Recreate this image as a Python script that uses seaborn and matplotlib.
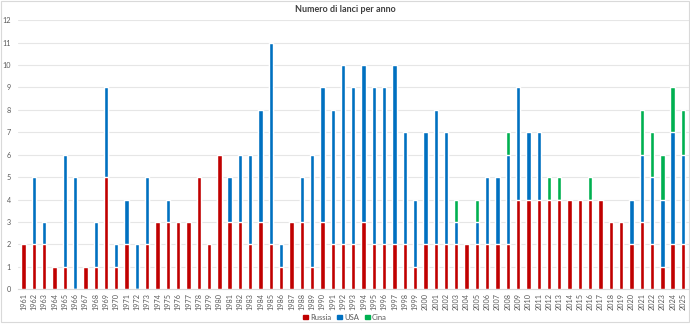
import matplotlib
matplotlib.use("Agg")
import matplotlib.pyplot as plt
from matplotlib.patches import Rectangle
import seaborn as sns
import pandas as pd

years = list(range(1961, 2026))
russia = [2, 2, 2, 1, 1, 0, 1, 1, 5, 1, 2, 0, 2, 3, 3, 3, 3, 5, 2, 6,
          3, 3, 2, 3, 2, 1, 3, 3, 1, 3, 2, 2, 2, 3, 2, 2, 2, 2, 1, 2,
          2, 2, 2, 2, 2, 2, 2, 2, 4, 4, 4, 4, 4, 4, 4, 4, 4, 3, 3, 2,
          3, 2, 1, 2, 2]
usa = [0, 3, 1, 0, 5, 5, 0, 2, 4, 1, 2, 2, 3, 0, 1, 0, 0, 0, 0, 0,
       2, 3, 4, 5, 9, 1, 0, 2, 5, 6, 6, 8, 7, 7, 7, 7, 8, 5, 3, 5,
       6, 5, 1, 0, 1, 3, 3, 4, 5, 3, 3, 0, 0, 0, 0, 0, 0, 0, 0, 2,
       3, 3, 3, 5, 4]
cina = [0, 0, 0, 0, 0, 0, 0, 0, 0, 0, 0, 0, 0, 0, 0, 0, 0, 0, 0, 0,
        0, 0, 0, 0, 0, 0, 0, 0, 0, 0, 0, 0, 0, 0, 0, 0, 0, 0, 0, 0,
        0, 0, 1, 0, 1, 0, 0, 1, 0, 0, 0, 1, 1, 0, 0, 1, 0, 0, 0, 0,
        2, 2, 2, 2, 2]
series_names = ["Russia", "USA", "Cina"]
colors = ["#C00000", "#0070C0", "#00B050"]

df = pd.DataFrame({"Anno": [str(y) for y in years],
                   "Russia": russia, "USA": usa, "Cina": cina})
df["Russia+USA"] = df["Russia"] + df["USA"]
df["Totale"] = df["Russia+USA"] + df["Cina"]

sns.set_theme(style="white")
plt.rcParams["font.family"] = ["Lato", "DejaVu Sans"]

fig = plt.figure(figsize=(6.9, 3.26), dpi=100)
ax = fig.add_axes([0.026, 0.113, 0.972, 0.825])

# stacked bars: draw cumulative totals back to front
for col, color in zip(["Totale", "Russia+USA", "Russia"], colors[::-1]):
    sns.barplot(data=df, x="Anno", y=col, color=color, width=0.42,
                saturation=1, ax=ax, zorder=3)

ax.set_ylim(0, 12)
ax.set_xlim(-0.55, len(years) - 0.45)
ax.set_yticks(range(0, 13))
ax.yaxis.grid(True, color="#E6E6E6", linewidth=0.8, zorder=0)
ax.set_axisbelow(True)
for side in ["top", "right", "left"]:
    ax.spines[side].set_visible(False)
ax.spines["bottom"].set_color("#D9D9D9")
ax.spines["bottom"].set_linewidth(0.8)
ax.set_xlabel("")
ax.set_ylabel("")
ax.tick_params(axis="x", labelrotation=90, labelsize=5.2, colors="#595959",
               length=0, pad=3)
ax.tick_params(axis="y", labelsize=5.2, colors="#595959", length=0, pad=5)

fig.text(0.5, 0.972, "Numero di lanci per anno", ha="center", va="center",
         fontsize=6.5, fontweight="bold", color="#404040")

handles = [Rectangle((0, 0), 1, 1, color=c) for c in colors]
fig.legend(handles, series_names, loc="center", bbox_to_anchor=(0.5, 0.027),
           ncol=3, frameon=False, fontsize=5.5, handlelength=0.6,
           handleheight=0.6, handletextpad=0.3, columnspacing=0.8,
           labelcolor="#595959")

# outer chart border
fig.patches.append(Rectangle((0.001, 0.012), 0.997, 0.986, transform=fig.transFigure,
                             fill=False, edgecolor="#D9D9D9", linewidth=0.8))

fig.savefig("out.png", dpi=100)
